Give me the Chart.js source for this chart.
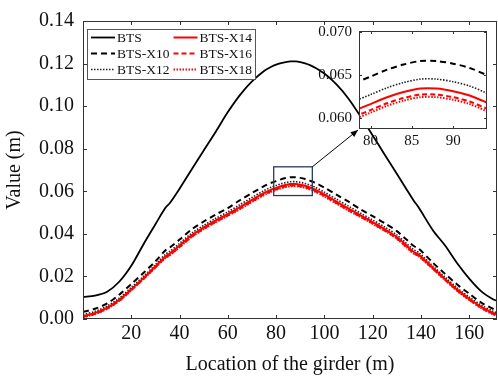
<!DOCTYPE html>
<html>
<head>
<meta charset="utf-8">
<script src="https://cdn.jsdelivr.net/npm/chart.js@4.4.1/dist/chart.umd.min.js"></script>
<style>
  html, body { margin: 0; padding: 0; background: #fff; }
  #wrap { position: relative; width: 498px; height: 382px; }
  #main { position: absolute; left: 0; top: 0; }
  #inset { position: absolute; left: 310px; top: 15px; }
</style>
</head>
<body>
<div id="wrap">
  <canvas id="main" width="498" height="382"></canvas>
  <canvas id="inset" width="188" height="140"></canvas>
</div>
<script>
// location along the girder (m)
const locations = [0, 5, 10, 15, 20, 25, 30, 34, 36, 40, 45, 50, 55, 60, 65, 70, 75, 78, 80, 82, 84, 86, 88, 90, 92, 94, 96,
  100, 105, 110, 115, 120, 125, 130, 134, 137, 139, 145, 150, 155, 160, 165, 170, 172];

// deflection values (m)
const bts = [0.0104, 0.0110, 0.0128, 0.0175, 0.0250, 0.0350, 0.0445, 0.0520, 0.0545, 0.0612, 0.0702, 0.0792, 0.0880, 0.0972,
  0.1052, 0.1116, 0.1165, 0.1185, 0.1195, 0.1202, 0.1207, 0.1210, 0.1210, 0.1207, 0.1201, 0.1193, 0.1182,
  0.1153, 0.1102, 0.1035, 0.0951, 0.0862, 0.0772, 0.0682, 0.0610, 0.0556, 0.0525, 0.0416, 0.0345, 0.0262, 0.0190, 0.0130, 0.0092, 0.0084];
const btsX10 = [0.0033, 0.0048, 0.0073, 0.0114, 0.0164, 0.0216, 0.0271, 0.0321, 0.0336, 0.0373, 0.0421, 0.0458, 0.0491, 0.0521,
  0.0558, 0.0592, 0.0624, 0.0640, 0.0648, 0.0656, 0.0662, 0.0666, 0.0666, 0.0663, 0.0658, 0.0650, 0.0641,
  0.0617, 0.0584, 0.0551, 0.0515, 0.0483, 0.0450, 0.0413, 0.0373, 0.0343, 0.0331, 0.0264, 0.0212, 0.0162, 0.0119, 0.0077, 0.0047, 0.0039];
const btsX12 = [0.0021, 0.0036, 0.0061, 0.0098, 0.0148, 0.0200, 0.0255, 0.0303, 0.0318, 0.0355, 0.0403, 0.0440, 0.0473, 0.0503,
  0.0537, 0.0571, 0.0603, 0.0619, 0.0627, 0.0635, 0.0641, 0.0645, 0.0645, 0.0642, 0.0637, 0.0629, 0.0620,
  0.0596, 0.0563, 0.0530, 0.0497, 0.0465, 0.0432, 0.0395, 0.0355, 0.0325, 0.0313, 0.0248, 0.0196, 0.0146, 0.0103, 0.0065, 0.0035, 0.0027];
const btsX14 = [0.0013, 0.0028, 0.0053, 0.0090, 0.0140, 0.0192, 0.0247, 0.0293, 0.0308, 0.0345, 0.0393, 0.0430, 0.0463, 0.0493,
  0.0526, 0.0560, 0.0592, 0.0608, 0.0616, 0.0624, 0.0630, 0.0634, 0.0634, 0.0631, 0.0626, 0.0618, 0.0609,
  0.0585, 0.0552, 0.0519, 0.0487, 0.0455, 0.0422, 0.0385, 0.0345, 0.0315, 0.0303, 0.0240, 0.0188, 0.0138, 0.0095, 0.0057, 0.0027, 0.0019];
const btsX16 = [0.0009, 0.0024, 0.0049, 0.0086, 0.0136, 0.0188, 0.0243, 0.0287, 0.0302, 0.0339, 0.0387, 0.0424, 0.0457, 0.0487,
  0.0519, 0.0553, 0.0585, 0.0601, 0.0609, 0.0617, 0.0623, 0.0627, 0.0627, 0.0624, 0.0619, 0.0611, 0.0602,
  0.0578, 0.0545, 0.0512, 0.0481, 0.0449, 0.0416, 0.0379, 0.0339, 0.0309, 0.0297, 0.0236, 0.0184, 0.0134, 0.0091, 0.0053, 0.0023, 0.0015];
const btsX18 = [0.0008, 0.0023, 0.0048, 0.0085, 0.0135, 0.0187, 0.0242, 0.0285, 0.0300, 0.0337, 0.0385, 0.0422, 0.0455, 0.0485,
  0.0516, 0.0550, 0.0582, 0.0598, 0.0606, 0.0614, 0.0620, 0.0624, 0.0624, 0.0621, 0.0616, 0.0608, 0.0599,
  0.0575, 0.0542, 0.0509, 0.0479, 0.0447, 0.0414, 0.0377, 0.0337, 0.0307, 0.0295, 0.0234, 0.0182, 0.0132, 0.0089, 0.0051, 0.0021, 0.0013];

// tick labels
const xTicks = [20, 40, 60, 80, 100, 120, 140, 160];
const yTicks = [0, 0.02, 0.04, 0.06, 0.08, 0.10, 0.12, 0.14];
const insetXTicks = [80, 85, 90];
const insetYTicks = [0.060, 0.065, 0.070];

const serif = "'Liberation Serif', 'Times New Roman', serif";
const insetPos = { left: 310, top: 15 };

// line styles per series
const styles = {
  'BTS':     { color: '#000000', dash: [], width: 1.8, order: 1 },
  'BTS-X10': { color: '#000000', dash: [6, 4], width: 2, order: 1 },
  'BTS-X12': { color: '#222222', dash: [1.5, 1.5], width: 1.6, order: 1 },
  'BTS-X14': { color: '#ff0000', dash: [], width: 2, order: 0 },
  'BTS-X16': { color: '#ff0000', dash: [5, 3], width: 2, order: 0 },
  'BTS-X18': { color: '#ff0000', dash: [1.5, 1.5], width: 2, order: 0 },
};
const series = [['BTS', bts], ['BTS-X10', btsX10], ['BTS-X12', btsX12],
  ['BTS-X14', btsX14], ['BTS-X16', btsX16], ['BTS-X18', btsX18]];
const legendOrder = ['BTS', 'BTS-X14', 'BTS-X10', 'BTS-X16', 'BTS-X12', 'BTS-X18'];

const makeDatasets = () => series.map(([name, vals]) => ({
  label: name,
  data: locations.map((x, i) => ({ x: x, y: vals[i] })),
  borderColor: styles[name].color,
  borderDash: styles[name].dash,
  borderWidth: styles[name].width,
  order: styles[name].order,
  pointRadius: 0,
  fill: false,
  tension: 0.3,
}));

// box frame + inward tick marks
const framePlugin = {
  id: 'frame',
  beforeDatasetsDraw(chart) {
    const { ctx, chartArea: a } = chart;
    ctx.save();
    ctx.fillStyle = '#fff';
    ctx.fillRect(a.left, a.top, a.right - a.left, a.bottom - a.top);
    ctx.restore();
  },
  afterDatasetsDraw(chart, args, opts) {
    const { ctx, chartArea: a, scales } = chart;
    const len = opts.len || 4;
    ctx.save();
    ctx.strokeStyle = '#333';
    ctx.lineWidth = 1;
    ctx.setLineDash([]);
    ctx.strokeRect(Math.round(a.left) + 0.5, Math.round(a.top) + 0.5, Math.round(a.right - a.left) - 1, Math.round(a.bottom - a.top) - 1);
    ctx.beginPath();
    scales.x.ticks.forEach(t => {
      const px = Math.round(scales.x.getPixelForValue(t.value)) + 0.5;
      ctx.moveTo(px, a.bottom); ctx.lineTo(px, a.bottom - len);
      ctx.moveTo(px, a.top); ctx.lineTo(px, a.top + len);
    });
    scales.y.ticks.forEach(t => {
      const py = Math.round(scales.y.getPixelForValue(t.value)) + 0.5;
      ctx.moveTo(a.left, py); ctx.lineTo(a.left + len, py);
      ctx.moveTo(a.right, py); ctx.lineTo(a.right - len, py);
    });
    ctx.stroke();
    ctx.restore();
  }
};

// legend box, two columns
const legendPlugin = {
  id: 'boxLegend',
  afterDraw(chart) {
    const { ctx, chartArea } = chart;
    const x0 = chartArea.left + 4, y0 = chartArea.top + 8;
    ctx.save();
    ctx.fillStyle = '#fff';
    ctx.fillRect(x0, y0, 168, 50);
    ctx.strokeStyle = '#555';
    ctx.lineWidth = 1;
    ctx.setLineDash([]);
    ctx.strokeRect(x0 + 0.5, y0 + 0.5, 168, 50);
    ctx.font = '13.5px ' + serif;
    ctx.textBaseline = 'middle';
    legendOrder.forEach((name, i) => {
      const lx = x0 + 4 + (i % 2) * 82.5;
      const ly = y0 + 8.5 + Math.floor(i / 2) * 16;
      const st = styles[name];
      ctx.strokeStyle = st.color;
      ctx.lineWidth = st.width;
      ctx.setLineDash(st.dash);
      ctx.beginPath(); ctx.moveTo(lx, ly); ctx.lineTo(lx + 24, ly); ctx.stroke();
      ctx.fillStyle = '#111';
      ctx.fillText(name, lx + 26, ly + 1);
    });
    ctx.restore();
  }
};

// zoom rectangle and arrow to the inset
const zoomBox = { x0: 79, x1: 95, y0: 0.058, y1: 0.0715 };
const zoomPlugin = {
  id: 'zoomBox',
  afterDatasetsDraw(chart) {
    const { ctx, scales } = chart;
    const l = scales.x.getPixelForValue(zoomBox.x0), r = scales.x.getPixelForValue(zoomBox.x1);
    const t = scales.y.getPixelForValue(zoomBox.y1), b = scales.y.getPixelForValue(zoomBox.y0);
    ctx.save();
    ctx.strokeStyle = '#2b3a5c';
    ctx.lineWidth = 1.3;
    ctx.setLineDash([]);
    ctx.strokeRect(l, t, r - l, b - t);
    const ia = insetChart.chartArea;
    const tx = insetPos.left + ia.left - 1, ty = insetPos.top + ia.bottom + 1;
    ctx.strokeStyle = '#000';
    ctx.lineWidth = 1;
    ctx.beginPath(); ctx.moveTo(r, t); ctx.lineTo(tx, ty); ctx.stroke();
    const ang = Math.atan2(ty - t, tx - r);
    ctx.fillStyle = '#000';
    ctx.beginPath();
    ctx.moveTo(tx, ty);
    ctx.lineTo(tx - 8 * Math.cos(ang - 0.4), ty - 8 * Math.sin(ang - 0.4));
    ctx.lineTo(tx - 8 * Math.cos(ang + 0.4), ty - 8 * Math.sin(ang + 0.4));
    ctx.closePath(); ctx.fill();
    ctx.restore();
  }
};

const setTicks = (arr) => (scale) => { scale.ticks = arr.map(v => ({ value: v })); };

// inset chart (zoomed peak)
const insetChart = new Chart(document.getElementById('inset'), {
  type: 'line',
  data: { datasets: makeDatasets() },
  options: {
    responsive: false,
    animation: false,
    layout: { padding: { top: 10, right: 11, left: 0, bottom: 0 } },
    plugins: { legend: { display: false }, tooltip: { enabled: false }, frame: { len: 3 } },
    scales: {
      x: {
        type: 'linear', min: 78.6, max: 94.1,
        afterBuildTicks: setTicks(insetXTicks),
        afterFit: (s) => { s.height = 26; },
        grid: { display: false, drawTicks: false }, border: { display: false },
        ticks: { font: { family: serif, size: 15 }, color: '#111', padding: 3, maxRotation: 0 },
      },
      y: {
        min: 0.0587, max: 0.0701,
        afterBuildTicks: setTicks(insetYTicks),
        afterFit: (s) => { s.width = 49; },
        grid: { display: false, drawTicks: false }, border: { display: false },
        ticks: { font: { family: serif, size: 15 }, color: '#111', padding: 7, callback: (v) => v.toFixed(3) },
      },
    },
  },
  plugins: [framePlugin],
});

// main chart
const mainChart = new Chart(document.getElementById('main'), {
  type: 'line',
  data: { datasets: makeDatasets() },
  options: {
    responsive: false,
    animation: false,
    layout: { padding: { top: 17, right: 1, left: 0, bottom: 0 } },
    plugins: { legend: { display: false }, tooltip: { enabled: false }, frame: { len: 4 } },
    scales: {
      x: {
        type: 'linear', min: 0, max: 171.5,
        afterBuildTicks: setTicks(xTicks),
        afterFit: (s) => { s.height = 63; },
        grid: { display: false, drawTicks: false }, border: { display: false },
        ticks: { font: { family: serif, size: 20 }, color: '#111', padding: 3, maxRotation: 0, autoSkip: false },
        title: { display: true, text: 'Location of the girder (m)', font: { family: serif, size: 20 }, color: '#111', padding: { top: 0, bottom: 5 } },
      },
      y: {
        min: 0, max: 0.14,
        afterBuildTicks: setTicks(yTicks),
        afterFit: (s) => { s.width = 83; },
        grid: { display: false, drawTicks: false }, border: { display: false },
        ticks: { font: { family: serif, size: 20 }, color: '#111', padding: 9, callback: (v) => v.toFixed(2) },
        title: { display: true, text: 'Value (m)', font: { family: serif, size: 20 }, color: '#111', padding: { top: 3, bottom: 0 } },
      },
    },
  },
  plugins: [framePlugin, zoomPlugin, legendPlugin],
});
</script>
</body>
</html>
